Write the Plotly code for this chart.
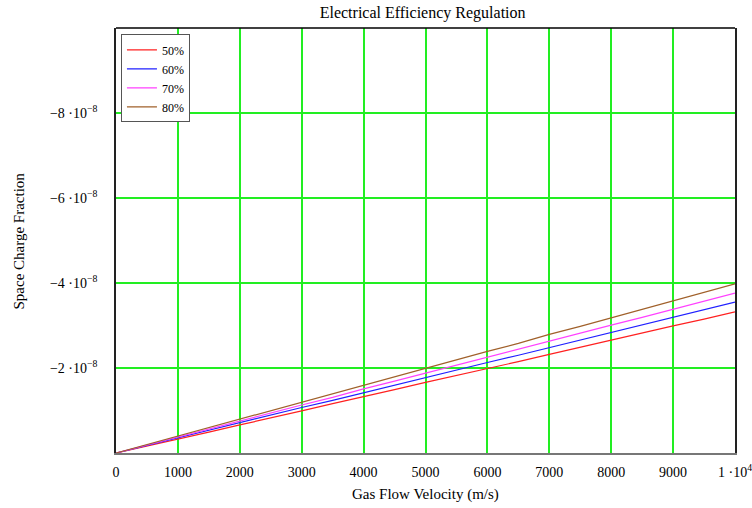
import plotly.graph_objects as go

velocity = [0, 500, 1000, 1500, 2000, 2500, 3000, 3500, 4000, 4500, 5000,
            5500, 6000, 6500, 7000, 7500, 8000, 8500, 9000, 9500, 10000]
# values in units of 1e-8
eff_50 = [0, -0.16, -0.33, -0.49, -0.66, -0.82, -0.99, -1.16, -1.32, -1.49, -1.66,
          -1.82, -1.99, -2.15, -2.32, -2.49, -2.66, -2.82, -2.99, -3.15, -3.32]
eff_60 = [0, -0.18, -0.36, -0.54, -0.71, -0.89, -1.07, -1.24, -1.42, -1.60, -1.77,
          -1.95, -2.13, -2.30, -2.48, -2.66, -2.84, -3.01, -3.19, -3.37, -3.55]
eff_70 = [0, -0.19, -0.38, -0.57, -0.75, -0.94, -1.13, -1.31, -1.51, -1.69, -1.88,
          -2.07, -2.26, -2.44, -2.63, -2.82, -3.01, -3.19, -3.38, -3.57, -3.76]
eff_80 = [0, -0.20, -0.40, -0.60, -0.80, -0.99, -1.19, -1.39, -1.59, -1.79, -1.99,
          -2.19, -2.39, -2.58, -2.79, -2.98, -3.18, -3.38, -3.58, -3.78, -3.98]
series_names = ["50%", "60%", "70%", "80%"]
series_colors = ["#ff2020", "#2020ff", "#ff40ff", "#a0602a"]
scale = 1e-8

xtick_vals = [0, 1000, 2000, 3000, 4000, 5000, 6000, 7000, 8000, 9000, 10000]
xtick_text = ["0", "1000", "2000", "3000", "4000", "5000", "6000", "7000", "8000", "9000",
              "1 ·10<sup>4</sup>"]
ytick_vals = [-2e-8, -4e-8, -6e-8, -8e-8]
ytick_text = ["−2 ·10<sup>−8</sup>", "−4 ·10<sup>−8</sup>", "−6 ·10<sup>−8</sup>",
              "−8 ·10<sup>−8</sup>"]

fig = go.Figure()
for name, vals, col in zip(series_names, [eff_50, eff_60, eff_70, eff_80], series_colors):
    fig.add_trace(go.Scatter(x=velocity, y=[v * scale for v in vals], mode="lines",
                             name=name, line=dict(color=col, width=1.2)))

font = "Liberation Serif, Times New Roman, serif"
grid = "#22ee22"
fig.update_layout(
    width=752, height=508,
    margin=dict(l=116, r=17, t=28, b=55, autoexpand=False),
    paper_bgcolor="white", plot_bgcolor="white",
    font=dict(family=font, size=14, color="black"),
    title=dict(text="Electrical Efficiency Regulation", x=0.562, xanchor="center",
               y=0.975, yanchor="middle", font=dict(family=font, size=16), automargin=False),
    showlegend=True,
    legend=dict(x=0.008, y=0.985, xanchor="left", yanchor="top",
                bordercolor="#555555", borderwidth=1, bgcolor="white",
                font=dict(family=font, size=12), tracegroupgap=0,
                itemwidth=30),
    xaxis=dict(range=[0, 10000], tickvals=xtick_vals, ticktext=xtick_text,
               showgrid=True, gridcolor=grid, gridwidth=1.6,
               ticklabeloverflow="allow",
               showline=True, linecolor="#777777", linewidth=1.5,
               zeroline=False, ticks="outside", ticklen=5, tickcolor="rgba(0,0,0,0)"),
    yaxis=dict(range=[0, -1e-7], tickvals=ytick_vals, ticktext=ytick_text,
               showgrid=True, gridcolor=grid, gridwidth=1.6,
               ticklabeloverflow="allow",
               showline=True, linecolor="#222222", linewidth=1.5, mirror=True,
               zeroline=False, ticks="outside", ticklen=14, tickcolor="rgba(0,0,0,0)"),
)
fig.add_shape(type="line", xref="paper", yref="paper", x0=0, x1=1, y0=1, y1=1,
              line=dict(color="black", width=1.5))
fig.add_annotation(text="Gas Flow Velocity (m/s)", xref="paper", yref="paper",
                   x=0.5, y=-41 / 425, xanchor="center", yanchor="middle",
                   showarrow=False, font=dict(family=font, size=15))
fig.add_annotation(text="Space Charge Fraction", xref="paper", yref="paper",
                   x=-98 / 619, y=0.5, xanchor="center", yanchor="middle", textangle=-90,
                   showarrow=False, font=dict(family=font, size=15))
fig.write_html("out.html")
